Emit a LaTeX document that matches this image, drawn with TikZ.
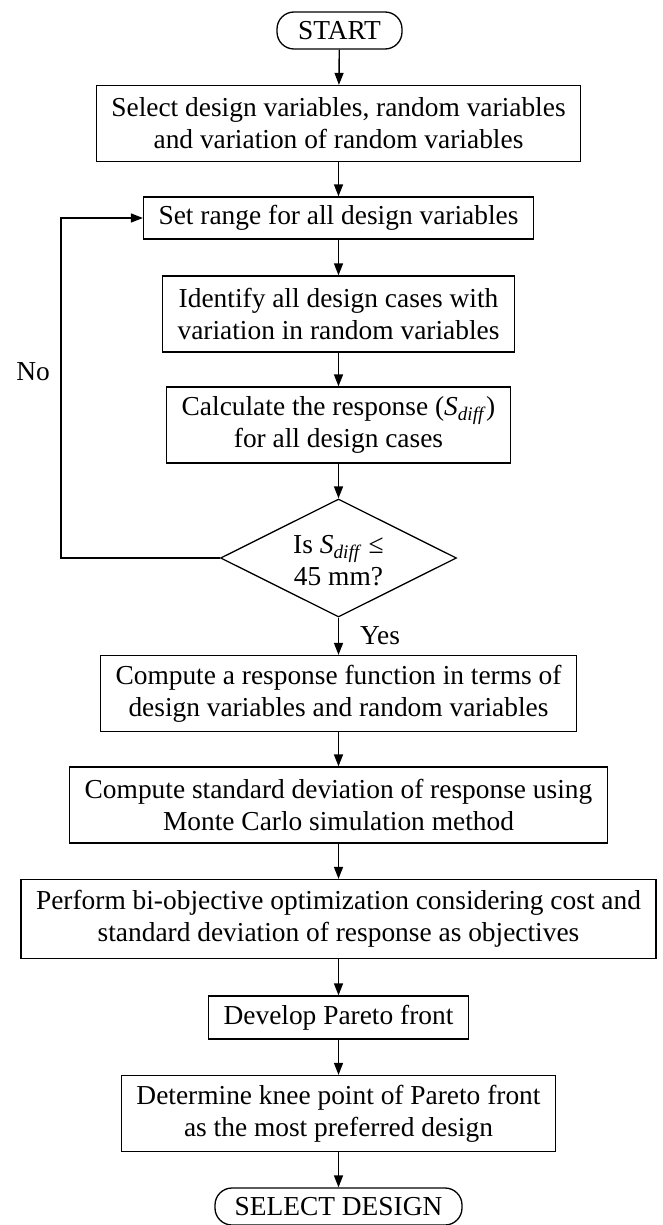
\documentclass[tikz,border=0pt]{standalone}
\usepackage{fontspec}
\setmainfont{Liberation Serif}
\usetikzlibrary{arrows.meta,shapes.geometric}
\begin{document}
\begin{tikzpicture}[x=1pt,y=-1pt,
  every node/.style={font=\fontsize{27.4}{32}\selectfont},
  proc/.style={draw, line width=1.3pt, align=center, inner xsep=15pt, inner ysep=0pt},
  one/.style={proc, minimum height=42pt},
  two/.style={proc, minimum height=76pt},
  term/.style={draw, line width=1.3pt, rounded corners=17pt, minimum height=37pt, inner sep=0pt},
  arr/.style={line width=1.4pt, -{Triangle[length=12pt,width=9pt]}},
]
\useasboundingbox (0,0) rectangle (663,1225);
\node[term, minimum width=125pt] (start) at (339.5,30.5) {START};
\node[two] (b1) at (338.5,123.5) {Select design variables, random variables\\and variation of random variables};
\node[one] (b2) at (338.5,218) {Set range for all design variables};
\node[two] (b3) at (338.5,314) {Identify all design cases with\\variation in random variables};
\node[two] (b4) at (338.5,425) {Calculate the response (\textit{S}\textsubscript{\textit{diff}})\\for all design cases};
\node[diamond, draw, line width=1.3pt, minimum width=236pt, minimum height=118pt, inner sep=0pt,
  label={[align=center, yshift=-3pt]center:Is \textit{S}\textsubscript{\textit{diff}} ≤\\45 mm?}] (dec) at (338.5,558) {};
\node[two] (b5) at (338.5,693.5) {Compute a response function in terms of\\design variables and random variables};
\node[two] (b6) at (338.5,805) {Compute standard deviation of response using\\Monte Carlo simulation method};
\node[two, minimum height=79pt] (b7) at (338.5,919) {Perform bi-objective optimization considering cost and\\standard deviation of response as objectives};
\node[one, minimum height=43pt] (b8) at (338.5,1017.5) {Develop Pareto front};
\node[two] (b9) at (338.5,1113.5) {Determine knee point of Pareto front\\as the most preferred design};
\node[term, minimum width=247pt] (end) at (338.5,1206.5) {SELECT DESIGN};
\node (no) at (33,372) {No};
\node (yes) at (380,636) {Yes};
\coordinate (fb) at (61,558);
\draw[arr] (start) -- (b1);
\draw[arr] (b1) -- (b2);
\draw[arr] (b2) -- (b3);
\draw[arr] (b3) -- (b4);
\draw[arr] (b4) -- (dec);
\draw[arr] (dec.west) -- (fb) |- (b2.west);
\draw[arr] (dec) -- (b5);
\draw[arr] (b5) -- (b6);
\draw[arr] (b6) -- (b7);
\draw[arr] (b7) -- (b8);
\draw[arr] (b8) -- (b9);
\draw[arr] (b9) -- (end);
\end{tikzpicture}
\end{document}
